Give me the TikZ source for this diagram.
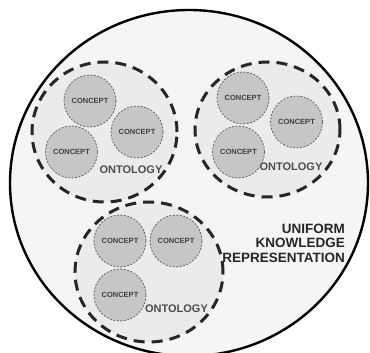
\documentclass[tikz,border=0pt]{standalone}
\usepackage{fontspec}
\setmainfont{Liberation Sans}
\usetikzlibrary{shapes.geometric}

\definecolor{outerfill}{HTML}{F5F5F5}
\definecolor{ontofill}{HTML}{EBEBEB}
\definecolor{conceptfill}{HTML}{C6C6C6}

\begin{document}
\begin{tikzpicture}[x=1pt, y=-1pt,
    onto/.style={ellipse, draw=black!85, line width=3pt, dash pattern=on 11pt off 7pt,
        fill=ontofill, inner sep=0pt},
    concept/.style={circle, draw=black!60, line width=0.8pt, dash pattern=on 2pt off 1.5pt,
        fill=conceptfill, minimum size=52pt, inner sep=0pt, text=black!75,
        font=\bfseries\fontsize{7.5}{9}\selectfont},
    ontotext/.style={inner sep=0pt, text=black!70, font=\bfseries\fontsize{11}{13}\selectfont}]
    % 画布范围
    \useasboundingbox (0,0) rectangle (370,353);
    \clip (0,0) rectangle (370,353);

    % 外层的统一知识表示
    \draw[line width=2.4pt, fill=outerfill] (189,183) ellipse [x radius=179, y radius=173];

    % 三个本体
    \node[onto, minimum width=145pt, minimum height=140pt] (ontoA) at (104.5,132) {};
    \node[onto, minimum width=145pt, minimum height=135pt] (ontoB) at (267.5,129.5) {};
    \node[onto, minimum width=148pt, minimum height=140pt] (ontoC) at (149,272) {};

    % 本体 A 中的概念
    \node[concept] (a1) at (90,101) {CONCEPT};
    \node[concept] (a2) at (137,132) {CONCEPT};
    \node[concept] (a3) at (71.5,152) {CONCEPT};
    \node[ontotext] (ta) at (131,170) {ONTOLOGY};

    % 本体 B 中的概念
    \node[concept] (b1) at (243,98) {CONCEPT};
    \node[concept] (b2) at (296.5,122) {CONCEPT};
    \node[concept] (b3) at (238.5,152) {CONCEPT};
    \node[ontotext] (tb) at (291,167) {ONTOLOGY};

    % 本体 C 中的概念
    \node[concept] (c1) at (120,241) {CONCEPT};
    \node[concept] (c2) at (176,241) {CONCEPT};
    \node[concept] (c3) at (120,295) {CONCEPT};
    \node[ontotext] (tc) at (176.5,309) {ONTOLOGY};

    % 右侧标题
    \node[anchor=east, align=right, inner sep=0pt, text=black!85,
        font=\bfseries\fontsize{13.5}{14.5}\selectfont] (ukr) at (345,243)
        {UNIFORM\\KNOWLEDGE\\REPRESENTATION};
\end{tikzpicture}
\end{document}
